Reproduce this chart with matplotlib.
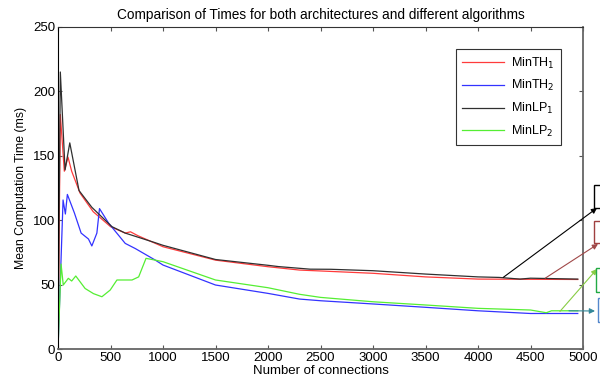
import numpy as np
import matplotlib
matplotlib.use("Agg")
from matplotlib import pyplot as plt
from matplotlib.patches import Rectangle

plt.rcParams["font.family"] = ["Liberation Sans", "DejaVu Sans"]

# values
x_lp1 = [0, 22, 67, 112, 200, 322, 513, 640, 927, 1000, 1500, 2000, 2100, 2400,
         2600, 3000, 3500, 4000, 4200, 4400, 4500, 4950]
y_lp1 = [0, 215, 139, 160, 123, 110, 95, 90, 82.5, 80.5, 69.5, 65, 64, 62,
         61.9, 60.8, 58.2, 56, 55.6, 54.3, 55, 54.3]

x_th1 = [0, 22, 60, 95, 130, 210, 335, 500, 640, 690, 760, 1000, 1500, 2000,
         2300, 2500, 3000, 3500, 4000, 4950]
y_th1 = [0, 182, 138, 149, 138, 121, 106.6, 95, 90, 91, 88, 79.4, 69, 63.9,
         61.3, 60.6, 58.8, 56, 54.3, 54]

x_th2 = [0, 48, 70, 89, 156, 220, 290, 322, 370, 395, 481, 640, 736, 927, 1000,
         1500, 2000, 2300, 2500, 3000, 3500, 4000, 4500, 4950]
y_th2 = [0, 115.7, 104.8, 120, 105.6, 90, 85.4, 80, 90, 109, 97.8, 82, 78, 69,
         65.2, 49.7, 43.2, 38.8, 37.5, 35, 32.4, 29.7, 27.6, 27.6]

x_lp2 = [0, 29, 50, 98, 130, 169, 258, 338, 418, 497, 561, 705, 768, 838, 927,
         1000, 1500, 2000, 2300, 2500, 3000, 3500, 4000, 4500, 4650, 4700, 4950]
y_lp2 = [0, 66, 49.7, 54.9, 52.8, 56.7, 47, 43, 40.6, 45.8, 53.6, 53.6, 56, 70.4,
         69, 67.8, 53.6, 47.6, 42.5, 40.1, 36.7, 34.2, 31.6, 30.3, 28.2, 29.7, 29.7]

fig = plt.figure(figsize=(6, 3.79), dpi=100)
ax = fig.add_axes([0.0967, 0.079, 0.875, 0.85])

ax.plot(x_th1, y_th1, color="#ff3b3b", lw=0.9, label="MinTH$_1$")
ax.plot(x_th2, y_th2, color="#3333ff", lw=0.9, label="MinTH$_2$")
ax.plot(x_lp1, y_lp1, color="#303030", lw=0.9, label="MinLP$_1$")
ax.plot(x_lp2, y_lp2, color="#55ee33", lw=0.9, label="MinLP$_2$")

ax.set_xlim(0, 5000)
ax.set_ylim(0, 250)
ax.set_xticks(np.arange(0, 5001, 500))
ax.set_yticks(np.arange(0, 251, 50))
ax.tick_params(direction="in", top=True, right=True, labelsize=9.5, length=3,
               pad=2, color="#555555")
for s in ["right", "bottom"]:
    ax.spines[s].set_color("#666666")
    ax.spines[s].set_linewidth(1.3)
ax.spines["left"].set_color("black")
ax.spines["top"].set_color("#333333")
ax.spines["top"].set_linewidth(0.8)

ax.set_title("Comparison of Times for both architectures and different algorithms",
             fontsize=9.8, pad=6)
ax.set_xlabel("Number of connections", fontsize=9.5, labelpad=1)
ax.set_ylabel("Mean Computation Time (ms)", fontsize=8.8, labelpad=4)

leg = ax.legend(loc="upper right", bbox_to_anchor=(0.958, 0.93), fontsize=9,
                fancybox=False, framealpha=1, edgecolor="#333333",
                handlelength=3.3, handletextpad=0.6, labelspacing=0.6,
                borderpad=0.5, borderaxespad=0)
leg.get_frame().set_linewidth(0.8)

# annotation boxes cut off at the right edge
boxes = [(594, 171, 194, "black"), (594, 136, 158, "#a04040"),
         (596, 87, 111, "#22aa44"), (598, 57, 81, "#5588cc")]
for bx, y0, y1, c in boxes:
    fig.patches.append(Rectangle((bx, y0), 20, y1 - y0, fill=False, ec=c, lw=1,
                                 transform=None, figure=fig))

arrows = [(x_lp1[-4] + 40, y_lp1[-4], (597, 171), "black"),
          (x_th1[-1] - 310, y_th1[-1] + 1, (598, 135), "#a04848"),
          (4780, y_lp2[-3] + 1, (597, 110), "#88cc44"),
          (4866, y_lp2[-1], (595, 68), "#338899")]
for tx, ty, tip, c in arrows:
    ax.annotate("", xy=tip, xycoords="figure pixels", xytext=(tx, ty),
                textcoords="data", annotation_clip=False,
                arrowprops=dict(arrowstyle="-|>", color=c, lw=0.8,
                                mutation_scale=8, shrinkA=0, shrinkB=0))

fig.savefig("out.png", dpi=100)
